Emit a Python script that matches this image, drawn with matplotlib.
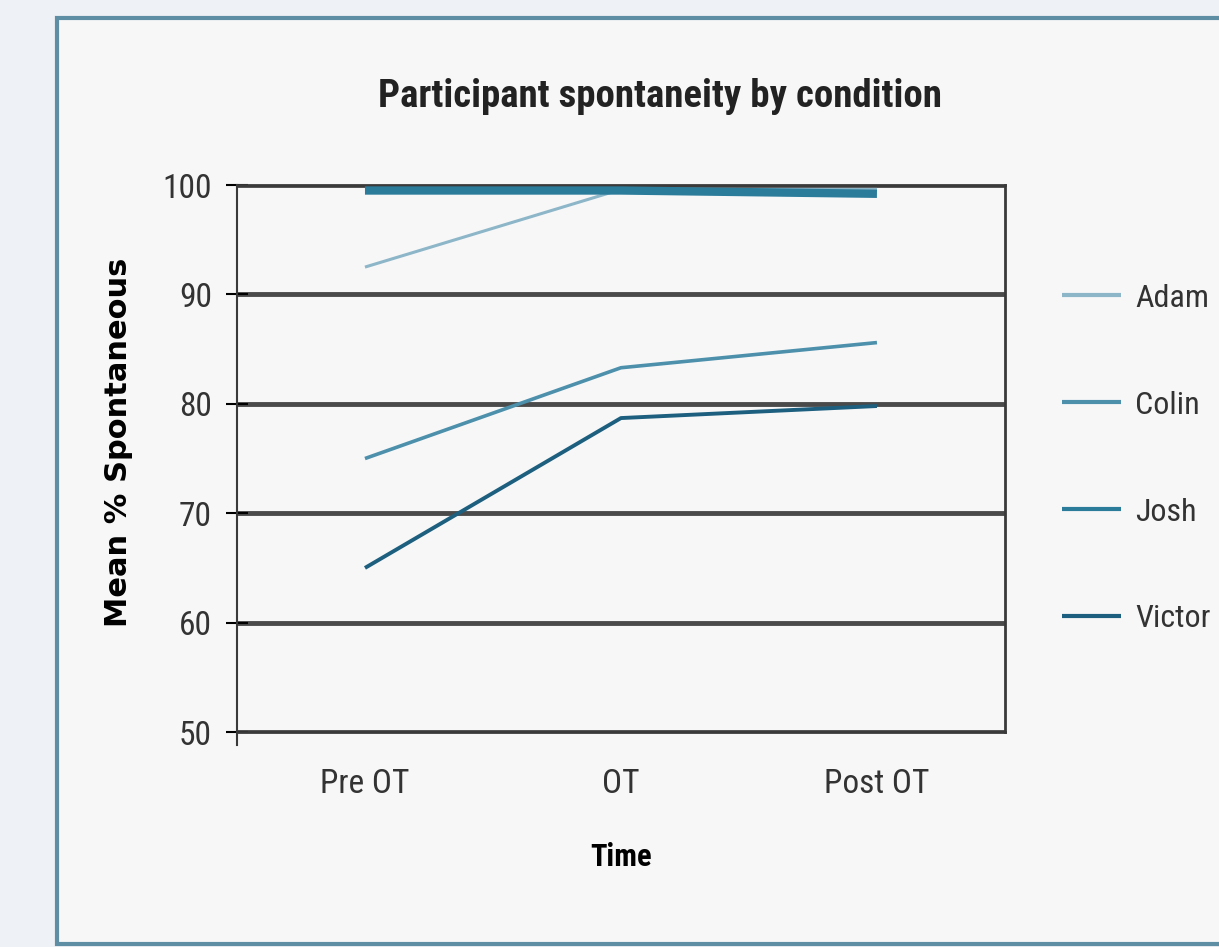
import matplotlib.pyplot as plt
from matplotlib.patches import Rectangle
from matplotlib import font_manager

conditions = ["Pre OT", "OT", "Post OT"]
adam = [92.5, 99.6, 99.6]
colin = [75.0, 83.3, 85.6]
josh = [99.5, 99.5, 99.2]
victor = [65.0, 78.7, 79.8]

names = ["Adam", "Colin", "Josh", "Victor"]
series = [adam, colin, josh, victor]
colors = ["#8db6c9", "#4c90ac", "#2b7c9b", "#1d5f7e"]
widths = [2.2, 2.6, 6.0, 2.8]

installed = {f.name for f in font_manager.fontManager.ttflist}
narrow = [n for n in ["Roboto Condensed", "Liberation Sans Narrow", "DejaVu Sans Condensed"]
          if n in installed] + ["DejaVu Sans"]

fig = plt.figure(figsize=(12.19, 9.47), dpi=100)
fig.patch.set_facecolor("#eef1f5")

# panel behind the chart
fig.patches.append(Rectangle((0.047, 0.003), 1.0, 0.978, transform=fig.transFigure,
                             facecolor="#f7f7f8", edgecolor="#5d8ea3", linewidth=3,
                             zorder=-5))

ax = fig.add_axes([0.1944, 0.2270, 0.630, 0.5776])
ax.set_facecolor("#f7f7f8")

x = range(len(conditions))
for name, vals, c, lw in zip(names, series, colors, widths):
    ax.plot(x, vals, color=c, linewidth=lw, label=name, solid_capstyle="butt", zorder=3)

ax.set_xlim(-0.5, 2.5)
ax.set_ylim(50, 100)
ax.set_yticks([50, 60, 70, 80, 90, 100])
ax.set_xticks(list(x))
ax.set_xticklabels(conditions, family=narrow, fontsize=24, color="#333333")
for lab in ax.get_yticklabels():
    lab.set_family(narrow)
    lab.set_fontsize(24)
    lab.set_color("#333333")
ax.tick_params(axis="y", direction="inout", length=16, width=1.5, pad=10)
ax.tick_params(axis="x", length=0, pad=26)

ax.grid(axis="y", color="#4a4a4a", linewidth=3.5, zorder=1)
for s in ["top", "right", "bottom"]:
    ax.spines[s].set_color("#3a3a3a")
    ax.spines[s].set_linewidth(2)
ax.spines["left"].set_color("#3a3a3a")
ax.spines["left"].set_linewidth(1.5)
ax.spines["left"].set_bounds(48.8, 100)

ax.set_xlabel("Time", family=narrow, fontsize=22, fontweight="bold", labelpad=30)
ax.set_ylabel("Mean % Spontaneous", fontsize=22, fontweight="bold", labelpad=10)
ax.yaxis.set_label_coords(-0.135, 0.53)

fig.text(0.541, 0.898, "Participant spontaneity by condition", family=narrow,
         fontsize=28, fontweight="bold", ha="center", va="center", color="#222222")

leg = ax.legend(loc="center left", bbox_to_anchor=(1.074, 0.5), frameon=False,
                borderpad=0, borderaxespad=0,
                handlelength=1.85, handletextpad=0.45, labelspacing=2.44,
                prop={"family": narrow, "size": 23})
for t in leg.get_texts():
    t.set_color("#333333")
for h in leg.get_lines():
    h.set_linewidth(3)

fig.savefig("out.png", dpi=100, facecolor=fig.get_facecolor())
